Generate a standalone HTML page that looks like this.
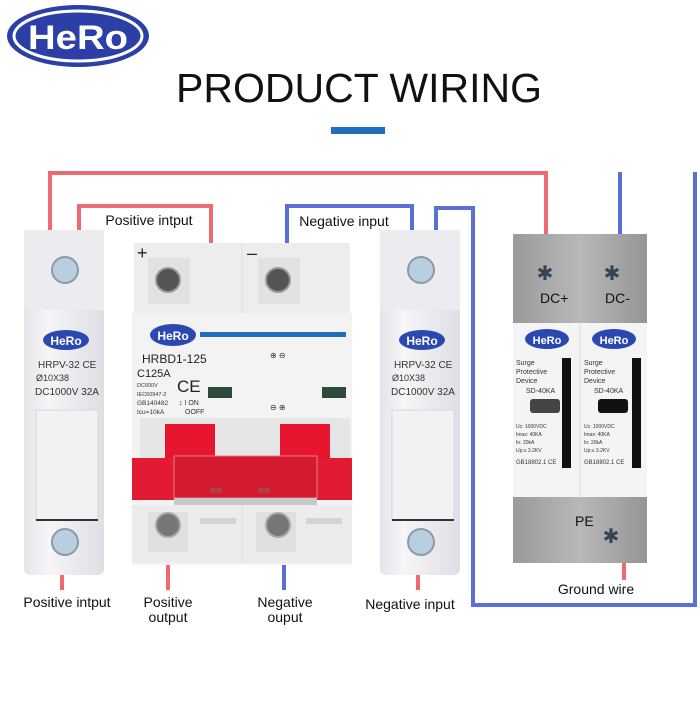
<!DOCTYPE html>
<html><head><style>
body{margin:0;background:#fff;}
svg text{font-family:"Liberation Sans",sans-serif;}
</style></head><body>
<svg width="700" height="700" viewBox="0 0 700 700" xmlns="http://www.w3.org/2000/svg">
<defs>
<linearGradient id="wg" x1="0" x2="1"><stop offset="0" stop-color="#e4e4ea"/><stop offset="0.3" stop-color="#f6f6f8"/><stop offset="1" stop-color="#dedee4"/></linearGradient>
<linearGradient id="gg" x1="0" x2="1"><stop offset="0" stop-color="#9a9a9a"/><stop offset="0.5" stop-color="#b8b8b8"/><stop offset="1" stop-color="#959595"/></linearGradient>
</defs>
<ellipse cx="78" cy="36" rx="71" ry="31" fill="#2b3fa6"/>
<ellipse cx="78" cy="36" rx="64" ry="25" fill="none" stroke="#fff" stroke-width="3"/>
<text x="78" y="49" font-size="34" font-weight="bold" fill="#fff" text-anchor="middle" textLength="100" lengthAdjust="spacingAndGlyphs">HeRo</text>
<text x="359" y="102" font-size="41" fill="#111" text-anchor="middle">PRODUCT WIRING</text>
<rect x="331" y="127" width="54" height="7" fill="#1f6fbf"/>
<g fill="none" stroke-width="4">
<polyline points="50,232 50,173 546,173 546,240" stroke="#f06870"/>
<polyline points="79,232 79,206 211,206 211,244" stroke="#f06870"/>
<polyline points="287,244 287,206 412,206 412,232" stroke="#5a70d8"/>
<polyline points="436,232 436,208 473,208 473,605 695,605 695,172" stroke="#5a70d8"/>
<line x1="620" y1="172" x2="620" y2="237" stroke="#5a70d8"/>
<line x1="62" y1="573" x2="62" y2="590" stroke="#f06870"/>
<line x1="168" y1="563" x2="168" y2="590" stroke="#f06870"/>
<line x1="284" y1="563" x2="284" y2="590" stroke="#5a70d8"/>
<line x1="418" y1="573" x2="418" y2="590" stroke="#f06870"/>
<line x1="624" y1="563" x2="624" y2="580" stroke="#f06870"/>
</g>
<text x="149" y="225" font-size="14" fill="#111" text-anchor="middle">Positive intput</text>
<text x="344" y="226" font-size="14" fill="#111" text-anchor="middle">Negative input</text>
<g>
<rect x="24" y="230" width="80" height="345" rx="6" fill="url(#wg)"/>
<rect x="24" y="230" width="80" height="80" fill="#ececf0"/>
<circle cx="65" cy="270" r="13" fill="#b9cfe0" stroke="#8a9aaa" stroke-width="2"/>
<ellipse cx="66" cy="340" rx="23" ry="10" fill="#2b48b0"/><text x="66" y="345" font-size="12" font-weight="bold" fill="#fff" text-anchor="middle">HeRo</text>
<text x="38" y="368" font-size="10" fill="#333">HRPV-32 CE</text>
<text x="36" y="381" font-size="9" fill="#333">Ø10X38</text>
<text x="35" y="395" font-size="10" fill="#333">DC1000V  32A</text>
<rect x="36" y="410" width="62" height="110" fill="#f2f2f5" stroke="#d6d6dc"/>
<line x1="36" y1="520" x2="98" y2="520" stroke="#333" stroke-width="2"/>
<circle cx="65" cy="542" r="13" fill="#b9cfe0" stroke="#8a9aaa" stroke-width="2"/>
</g>
<g transform="translate(356,0)">
<rect x="24" y="230" width="80" height="345" rx="6" fill="url(#wg)"/>
<rect x="24" y="230" width="80" height="80" fill="#ececf0"/>
<circle cx="65" cy="270" r="13" fill="#b9cfe0" stroke="#8a9aaa" stroke-width="2"/>
<ellipse cx="66" cy="340" rx="23" ry="10" fill="#2b48b0"/><text x="66" y="345" font-size="12" font-weight="bold" fill="#fff" text-anchor="middle">HeRo</text>
<text x="38" y="368" font-size="10" fill="#333">HRPV-32 CE</text>
<text x="36" y="381" font-size="9" fill="#333">Ø10X38</text>
<text x="35" y="395" font-size="10" fill="#333">DC1000V  32A</text>
<rect x="36" y="410" width="62" height="110" fill="#f2f2f5" stroke="#d6d6dc"/>
<line x1="36" y1="520" x2="98" y2="520" stroke="#333" stroke-width="2"/>
<circle cx="65" cy="542" r="13" fill="#b9cfe0" stroke="#8a9aaa" stroke-width="2"/>
</g>
<rect x="134" y="243" width="216" height="70" fill="#ededed"/>
<line x1="242" y1="243" x2="242" y2="313" stroke="#ddd"/>
<rect x="148" y="258" width="42" height="46" fill="#e2e2e2"/>
<rect x="258" y="258" width="42" height="46" fill="#e2e2e2"/>
<circle cx="168" cy="280" r="12" fill="#555" stroke="#999" stroke-width="2"/>
<circle cx="278" cy="280" r="12" fill="#555" stroke="#999" stroke-width="2"/>
<text x="137" y="259" font-size="18" fill="#222">+</text>
<text x="247" y="259" font-size="18" fill="#222">–</text>
<rect x="132" y="313" width="220" height="252" fill="#f3f3f3"/>
<ellipse cx="173" cy="335" rx="23" ry="11" fill="#2b48b0"/><text x="173" y="340" font-size="12" font-weight="bold" fill="#fff" text-anchor="middle">HeRo</text>
<rect x="200" y="332" width="146" height="5" fill="#1f6fbf"/>
<text x="142" y="363" font-size="12" fill="#222">HRBD1-125</text>
<text x="137" y="377" font-size="11" fill="#222">C125A</text>
<text x="177" y="392" font-size="17" fill="#222">CE</text>
<text x="137" y="387" font-size="5.5" fill="#333">DC600V</text>
<text x="137" y="396" font-size="5.5" fill="#333">IEC60947-2</text>
<text x="137" y="405" font-size="6.5" fill="#333">GB140482</text>
<text x="137" y="414" font-size="6.5" fill="#333">Icu=10kA</text>
<text x="179" y="405" font-size="7" fill="#333">↕ I ON</text>
<text x="185" y="414" font-size="7" fill="#333">OOFF</text>
<text x="270" y="358" font-size="8" fill="#333">⊕ ⊖</text>
<text x="270" y="410" font-size="8" fill="#333">⊖ ⊕</text>
<rect x="208" y="387" width="24" height="11" fill="#2d4a3a"/>
<rect x="322" y="387" width="24" height="11" fill="#2d4a3a"/>
<rect x="140" y="418" width="210" height="40" fill="#e6e6e6"/>
<rect x="165" y="424" width="50" height="40" fill="#e8152e"/>
<rect x="280" y="424" width="50" height="40" fill="#e8152e"/>
<rect x="132" y="458" width="220" height="42" fill="#e31a33"/>
<rect x="174" y="456" width="143" height="42" fill="#d41a2e" stroke="#f07a84"/>
<rect x="174" y="498" width="143" height="7" fill="#c8c8c8"/>
<rect x="210" y="488" width="12" height="5" fill="#b04040"/><rect x="258" y="488" width="12" height="5" fill="#b04040"/>
<rect x="132" y="505" width="220" height="58" fill="#ececec"/>
<line x1="242" y1="505" x2="242" y2="563" stroke="#ddd"/>
<rect x="148" y="512" width="40" height="40" fill="#e0e0e0"/>
<rect x="256" y="512" width="40" height="40" fill="#e0e0e0"/>
<rect x="200" y="518" width="36" height="6" fill="#d4d4d4"/><rect x="306" y="518" width="36" height="6" fill="#d4d4d4"/>
<circle cx="168" cy="525" r="12" fill="#777" stroke="#aaa" stroke-width="2"/>
<circle cx="278" cy="525" r="12" fill="#777" stroke="#aaa" stroke-width="2"/>
<rect x="513" y="234" width="134" height="89" fill="url(#gg)"/>
<text x="540" y="303" font-size="14" fill="#111">DC+</text>
<text x="605" y="303" font-size="14" fill="#111">DC-</text>
<text x="545" y="280" font-size="20" fill="#345" text-anchor="middle">✱</text>
<text x="612" y="280" font-size="20" fill="#345" text-anchor="middle">✱</text>
<rect x="513" y="323" width="134" height="174" fill="#f4f4f4"/>
<line x1="580" y1="323" x2="580" y2="497" stroke="#ddd"/>
<rect x="562" y="358" width="9" height="110" fill="#111"/>
<rect x="632" y="358" width="9" height="110" fill="#111"/>
<ellipse cx="547" cy="339" rx="22" ry="10" fill="#2b48b0"/><text x="547" y="344" font-size="11" font-weight="bold" fill="#fff" text-anchor="middle">HeRo</text>
<ellipse cx="614" cy="339" rx="22" ry="10" fill="#2b48b0"/><text x="614" y="344" font-size="11" font-weight="bold" fill="#fff" text-anchor="middle">HeRo</text>
<text x="516" y="365" font-size="7" fill="#333">Surge</text><text x="516" y="374" font-size="7" fill="#333">Protective</text><text x="516" y="383" font-size="7" fill="#333">Device</text>
<text x="584" y="365" font-size="7" fill="#333">Surge</text><text x="584" y="374" font-size="7" fill="#333">Protective</text><text x="584" y="383" font-size="7" fill="#333">Device</text>
<text x="526" y="393" font-size="7" fill="#333">SD-40KA</text><text x="594" y="393" font-size="7" fill="#333">SD-40KA</text>
<rect x="530" y="399" width="30" height="14" rx="3" fill="#444"/>
<rect x="598" y="399" width="30" height="14" rx="3" fill="#111"/>
<text x="516" y="428" font-size="5" fill="#333">Uc: 1000VDC</text><text x="516" y="436" font-size="5" fill="#333">Imax: 40KA</text><text x="516" y="444" font-size="5" fill="#333">In: 20kA</text><text x="516" y="452" font-size="5" fill="#333">Up:≤ 3.2KV</text>
<text x="584" y="428" font-size="5" fill="#333">Uc: 1000VDC</text><text x="584" y="436" font-size="5" fill="#333">Imax: 40KA</text><text x="584" y="444" font-size="5" fill="#333">In: 20kA</text><text x="584" y="452" font-size="5" fill="#333">Up:≤ 3.2KV</text>
<text x="516" y="464" font-size="6" fill="#333">GB18802.1 CE</text><text x="584" y="464" font-size="6" fill="#333">GB18802.1 CE</text>
<rect x="513" y="497" width="134" height="66" fill="url(#gg)"/>
<text x="575" y="526" font-size="14" fill="#111">PE</text>
<text x="611" y="543" font-size="20" fill="#345" text-anchor="middle">✱</text>
<g font-size="14" fill="#111" text-anchor="middle">
<text x="67" y="607">Positive intput</text>
<text x="168" y="607">Positive</text><text x="168" y="622">output</text>
<text x="285" y="607">Negative</text><text x="285" y="622">ouput</text>
<text x="410" y="609">Negative input</text>
<text x="596" y="594">Ground wire</text>
</g>
</svg>
</body></html>
